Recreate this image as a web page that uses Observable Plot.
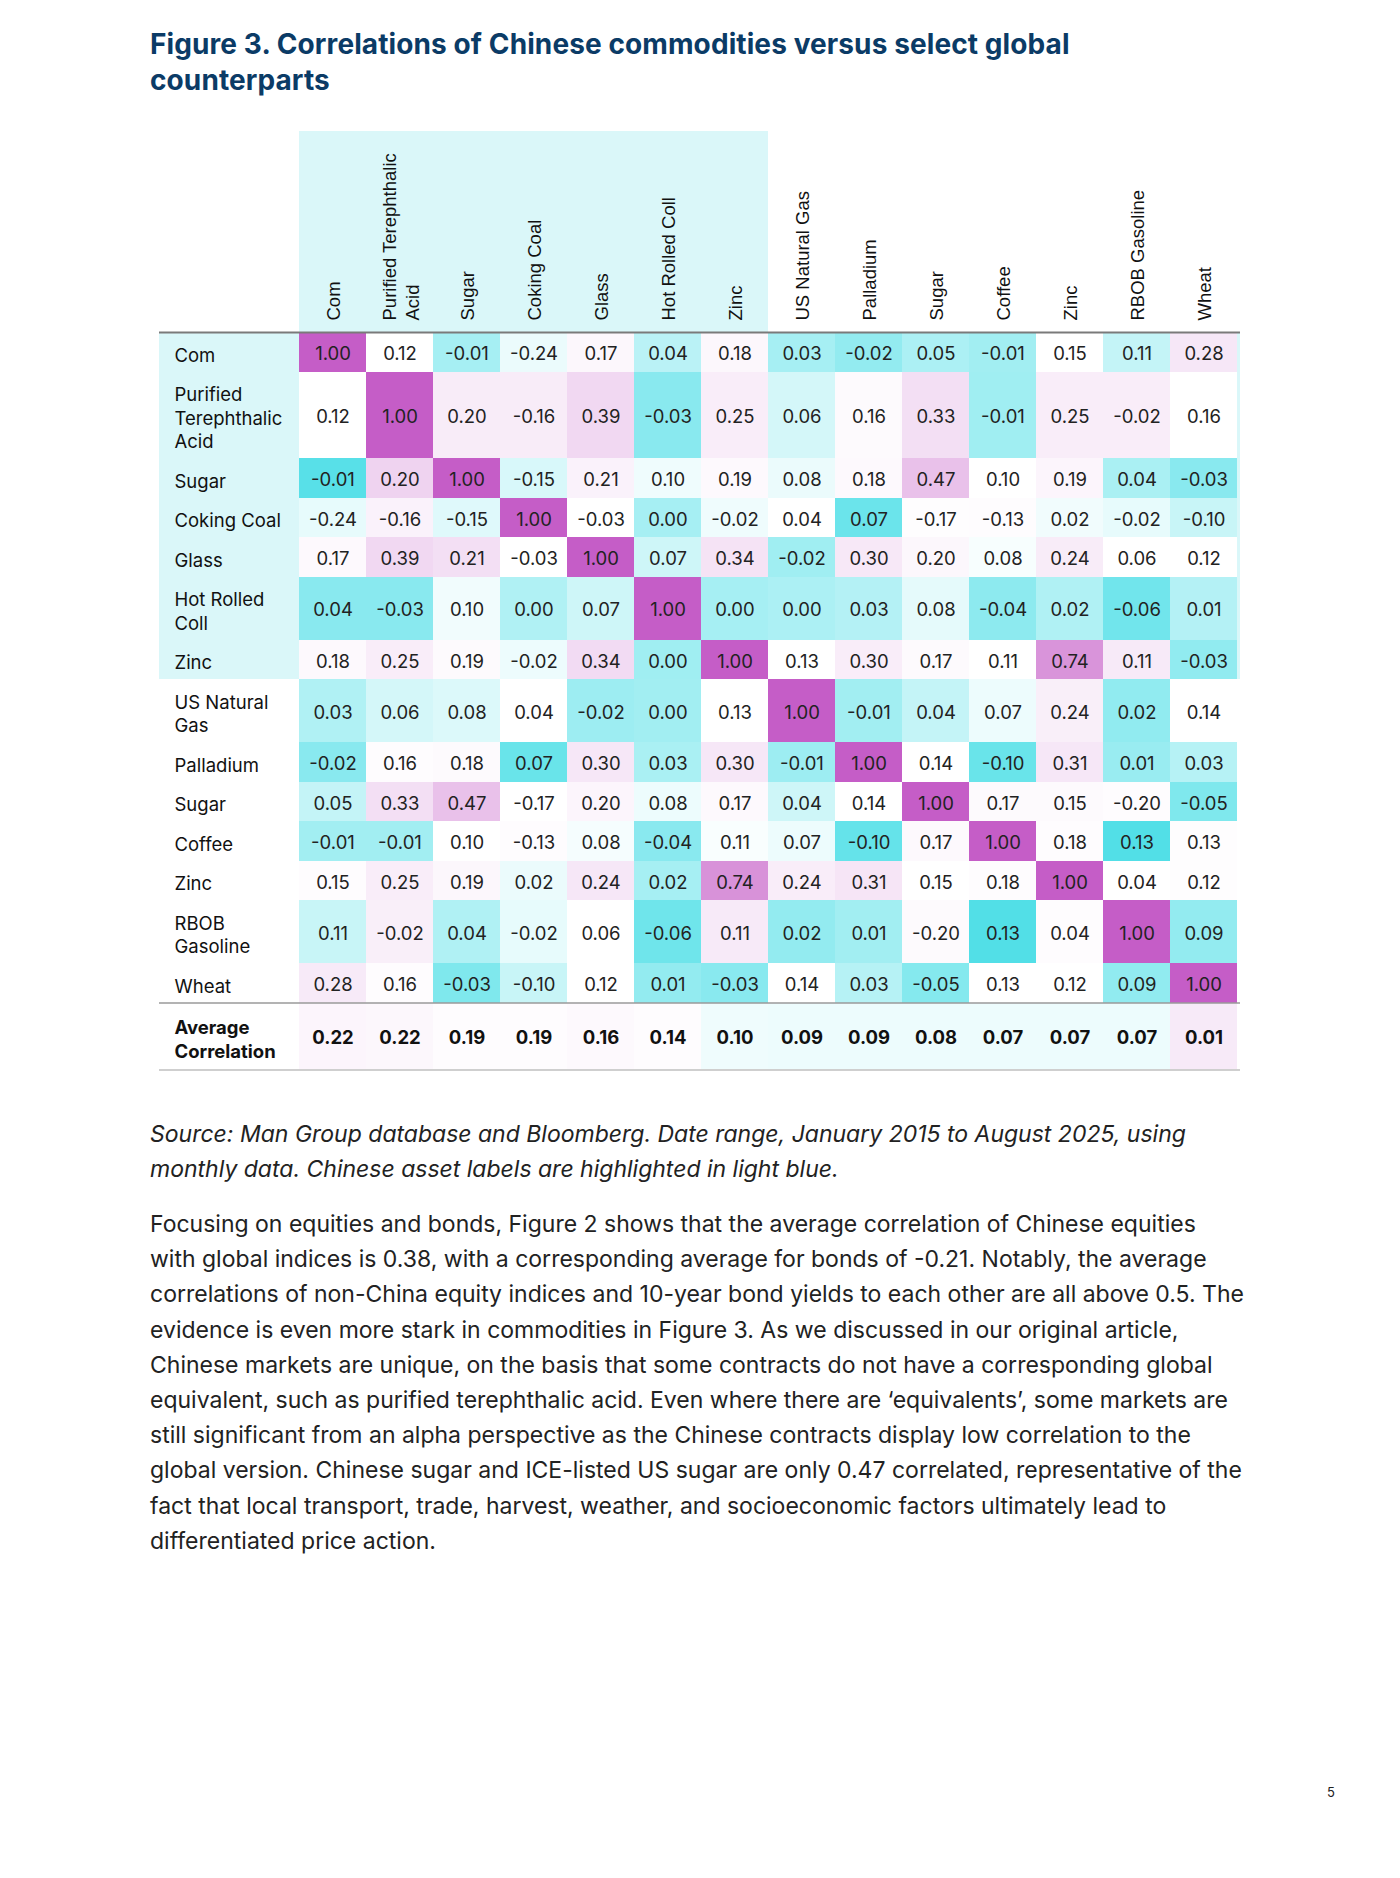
<!DOCTYPE html>
<html>
<head>
<meta charset="utf-8">
<script src="https://cdn.jsdelivr.net/npm/d3@7"></script>
<script src="https://cdn.jsdelivr.net/npm/@observablehq/plot@0.6"></script>
<style>
  html, body { margin: 0; padding: 0; background: #ffffff; }
  body { width: 1400px; height: 1878px; position: relative; font-family: Inter, "Noto Sans", sans-serif; color: #222; }
  #title { position: absolute; left: 150px; top: 26px; width: 1200px; font-family: Inter, Roboto, sans-serif; font-weight: 700; font-size: 28px; line-height: 36px; color: #0b3b66; white-space: nowrap; letter-spacing: 0.1px; }
  #chart { position: absolute; left: 0; top: 110px; }
  #source { position: absolute; left: 150px; top: 1117px; font-style: italic; font-size: 23px; line-height: 35px; color: #222; white-space: nowrap; }
  #body { position: absolute; left: 150px; top: 1207px; font-size: 23px; line-height: 35.2px; color: #222; white-space: nowrap; }
  #page { position: absolute; left: 1327px; top: 1784px; font-size: 13px; color: #222; }
</style>
</head>
<body>
<div id="title">Figure 3. Correlations of Chinese commodities versus select global<br>counterparts</div>
<div id="chart"></div>
<div id="source">Source: Man Group database and Bloomberg. Date range, January 2015 to August 2025, using<br>monthly data. Chinese asset labels are highlighted in light blue.</div>
<div id="body">Focusing on equities and bonds, Figure 2 shows that the average correlation of Chinese equities<br>with global indices is 0.38, with a corresponding average for bonds of -0.21. Notably, the average<br>correlations of non-China equity indices and 10-year bond yields to each other are all above 0.5. The<br>evidence is even more stark in commodities in Figure 3. As we discussed in our original article,<br>Chinese markets are unique, on the basis that some contracts do not have a corresponding global<br>equivalent, such as purified terephthalic acid. Even where there are ‘equivalents’, some markets are<br>still significant from an alpha perspective as the Chinese contracts display low correlation to the<br>global version. Chinese sugar and ICE-listed US sugar are only 0.47 correlated, representative of the<br>fact that local transport, trade, harvest, weather, and socioeconomic factors ultimately lead to<br>differentiated price action.</div>
<div id="page">5</div>
<script>
// ---------------- DATA ----------------
const columnLabels = ["Com", "Purified Terephthalic\nAcid", "Sugar", "Coking Coal", "Glass", "Hot Rolled Coll", "Zinc",
  "US Natural Gas", "Palladium", "Sugar", "Coffee", "Zinc", "RBOB Gasoline", "Wheat"];
const rowLabels = ["Com", "Purified\nTerephthalic\nAcid", "Sugar", "Coking Coal", "Glass", "Hot Rolled\nColl", "Zinc",
  "US Natural\nGas", "Palladium", "Sugar", "Coffee", "Zinc", "RBOB\nGasoline", "Wheat"];
const isChinese = [true, true, true, true, true, true, true, false, false, false, false, false, false, false];

const correlations = [
  [1.00, 0.12, -0.01, -0.24, 0.17, 0.04, 0.18, 0.03, -0.02, 0.05, -0.01, 0.15, 0.11, 0.28],
  [0.12, 1.00, 0.20, -0.16, 0.39, -0.03, 0.25, 0.06, 0.16, 0.33, -0.01, 0.25, -0.02, 0.16],
  [-0.01, 0.20, 1.00, -0.15, 0.21, 0.10, 0.19, 0.08, 0.18, 0.47, 0.10, 0.19, 0.04, -0.03],
  [-0.24, -0.16, -0.15, 1.00, -0.03, 0.00, -0.02, 0.04, 0.07, -0.17, -0.13, 0.02, -0.02, -0.10],
  [0.17, 0.39, 0.21, -0.03, 1.00, 0.07, 0.34, -0.02, 0.30, 0.20, 0.08, 0.24, 0.06, 0.12],
  [0.04, -0.03, 0.10, 0.00, 0.07, 1.00, 0.00, 0.00, 0.03, 0.08, -0.04, 0.02, -0.06, 0.01],
  [0.18, 0.25, 0.19, -0.02, 0.34, 0.00, 1.00, 0.13, 0.30, 0.17, 0.11, 0.74, 0.11, -0.03],
  [0.03, 0.06, 0.08, 0.04, -0.02, 0.00, 0.13, 1.00, -0.01, 0.04, 0.07, 0.24, 0.02, 0.14],
  [-0.02, 0.16, 0.18, 0.07, 0.30, 0.03, 0.30, -0.01, 1.00, 0.14, -0.10, 0.31, 0.01, 0.03],
  [0.05, 0.33, 0.47, -0.17, 0.20, 0.08, 0.17, 0.04, 0.14, 1.00, 0.17, 0.15, -0.20, -0.05],
  [-0.01, -0.01, 0.10, -0.13, 0.08, -0.04, 0.11, 0.07, -0.10, 0.17, 1.00, 0.18, 0.13, 0.13],
  [0.15, 0.25, 0.19, 0.02, 0.24, 0.02, 0.74, 0.24, 0.31, 0.15, 0.18, 1.00, 0.04, 0.12],
  [0.11, -0.02, 0.04, -0.02, 0.06, -0.06, 0.11, 0.02, 0.01, -0.20, 0.13, 0.04, 1.00, 0.09],
  [0.28, 0.16, -0.03, -0.10, 0.12, 0.01, -0.03, 0.14, 0.03, -0.05, 0.13, 0.12, 0.09, 1.00]
];
const averageLabel = "Average\nCorrelation";
const averageCorrelation = [0.22, 0.22, 0.19, 0.19, 0.16, 0.14, 0.10, 0.09, 0.09, 0.08, 0.07, 0.07, 0.07, 0.01];

// cell shading (-1 = deep cyan, 0 = white, +1 = magenta)
const shade = [
  [1, 0, -0.45, -0.1, 0.05, -0.35, 0.05, -0.45, -0.55, -0.42, -0.47, 0, -0.3, 0.15],
  [0, 1, 0.12, 0.12, 0.24, -0.6, 0.11, -0.22, 0.03, 0.2, -0.48, 0.11, 0.11, 0],
  [-0.85, 0.27, 1, -0.2, 0.08, -0.08, 0.04, -0.1, 0.04, 0.38, 0, 0.06, -0.43, -0.6],
  [-0.12, 0.08, -0.16, 1, 0, -0.45, -0.08, 0, -0.75, 0.01, 0.02, -0.07, -0.12, -0.28],
  [0.04, 0.24, 0.2, 0, 1, -0.25, 0.17, -0.48, 0.14, 0.05, -0.04, 0.12, 0, 0],
  [-0.6, -0.6, -0.07, -0.4, -0.25, 1, -0.45, -0.42, -0.38, -0.13, -0.58, -0.4, -0.72, -0.38],
  [0.04, 0.11, 0.03, -0.09, 0.22, -0.48, 1, 0, 0.11, 0.03, 0, 0.66, 0.13, -0.56],
  [-0.4, -0.22, -0.18, 0, -0.5, -0.47, 0, 1, -0.47, -0.3, -0.09, 0.1, -0.56, 0],
  [-0.6, 0.02, 0.03, -0.76, 0.15, -0.43, 0.15, -0.5, 1, 0, -0.76, 0.15, -0.52, -0.37],
  [-0.3, 0.2, 0.38, 0, 0.06, -0.09, 0.04, -0.25, 0, 1, 0.03, 0.03, 0.02, -0.65],
  [-0.47, -0.47, 0, 0.02, -0.05, -0.6, -0.03, -0.09, -0.78, 0.04, 1, 0.02, -0.88, 0.01],
  [0.02, 0.11, 0.05, -0.1, 0.15, -0.45, 0.67, 0.11, 0.16, 0, 0.02, 1, 0, 0.01],
  [-0.28, 0.1, -0.4, -0.12, 0, -0.73, 0.13, -0.55, -0.47, 0.03, -0.88, 0.02, 1, -0.55],
  [0.13, 0.02, -0.65, -0.28, 0, -0.55, -0.6, 0, -0.37, -0.62, 0, 0, -0.56, 1]
];
const averageShade = [0.06, 0.05, 0.02, 0.02, 0.04, 0.02, -0.08, -0.09, -0.09, -0.09, -0.09, -0.09, -0.09, 0.13];

// ---------------- LAYOUT ----------------
const W = 1400, H = 970;
const TABLE_LEFT = 159, LABEL_COL = 136, COL_W = 67.5;
const TABLE_RIGHT = TABLE_LEFT + LABEL_COL + columnLabels.length * COL_W;
const TABLE_TOP = 222;          // table top inside the svg
const HEADER_H = 201;           // height of the shaded header band
const ROW_PAD = 16, LINE_H = 23.5;
const nLines = s => s.split("\n").length;

let acc = 0;
const rows = rowLabels.map((label, i) => {
  const h = ROW_PAD + LINE_H * nLines(label);
  const r = {i, label, y1: acc, y2: acc + h, chinese: isChinese[i]};
  acc += h;
  return r;
});
const bodyBottom = acc;
const avgRow = {label: averageLabel, y1: bodyBottom, y2: bodyBottom + ROW_PAD + LINE_H * nLines(averageLabel) + 4};

const cells = [];
rows.forEach((r, i) => correlations[i].forEach((v, j) =>
  cells.push({col: j, y1: r.y1, y2: r.y2, value: v, shade: shade[i][j]})));
const avgCells = averageCorrelation.map((v, j) =>
  ({col: j, y1: avgRow.y1, y2: avgRow.y2, value: v, shade: averageShade[j]}));
const cols = columnLabels.map((label, j) => ({col: j, label, chinese: isChinese[j]}));

const mid = d => (d.y1 + d.y2) / 2;
const fmt = v => v.toFixed(2);
const CYAN_BG = "#daf7f9";
const TXT_DY = 2;

const chart = Plot.plot({
  width: W, height: H,
  marginLeft: TABLE_LEFT, marginRight: W - TABLE_RIGHT,
  marginTop: 0, marginBottom: 0,
  x: {type: "band", domain: d3.range(columnLabels.length), range: [TABLE_LEFT + LABEL_COL, TABLE_RIGHT], padding: 0, axis: null},
  y: {type: "linear", domain: [-TABLE_TOP, H - TABLE_TOP], range: [0, H], axis: null},
  color: {type: "linear", domain: [-1, 0, 1], range: ["#3adbe4", "#ffffff", "#c55dc7"], interpolate: "rgb"},
  style: {fontFamily: "Inter, 'Noto Sans', sans-serif", fontSize: "18px", color: "#222", background: "#ffffff"},
  marks: [
    // shaded header band over the Chinese columns
    Plot.barY(cols.filter(d => d.chinese), {x: "col", y1: -HEADER_H, y2: 0, fill: CYAN_BG, shapeRendering: "crispEdges"}),
    // shaded label cells for Chinese rows
    Plot.rect(rows.filter(d => d.chinese), {y1: "y1", y2: "y2", fill: CYAN_BG, shapeRendering: "crispEdges"}),
    // heatmap cells
    Plot.barY(cells, {x: "col", y1: "y1", y2: "y2", fill: "shade", shapeRendering: "crispEdges"}),
    Plot.barY(avgCells, {x: "col", y1: "y1", y2: "y2", fill: "shade", shapeRendering: "crispEdges"}),
    // values
    Plot.text(cells, {x: "col", y: mid, dy: TXT_DY, text: d => fmt(d.value), fill: "#222", fontSize: 18.5, fontWeight: 400}),
    Plot.text(avgCells, {x: "col", y: mid, dy: TXT_DY, text: d => fmt(d.value), fill: "#111", fontSize: 18.5, fontWeight: 700}),
    // column headers
    Plot.text(cols, {x: "col", y: -12, text: "label", rotate: -90, textAnchor: "start", lineAnchor: "middle",
      lineHeight: 1.25, fontFamily: "'Liberation Sans', Arial, sans-serif", fontSize: 18.5, fill: "#111"}),
    // row labels
    Plot.text(rows, {y: mid, dy: TXT_DY, text: "label", frameAnchor: "left", dx: 15, textAnchor: "start", lineAnchor: "middle",
      lineHeight: LINE_H / 18.5, fontSize: 18.5, fill: "#111"}),
    Plot.text([avgRow], {y: mid, dy: TXT_DY, text: "label", frameAnchor: "left", dx: 15, textAnchor: "start", lineAnchor: "middle",
      lineHeight: LINE_H / 18.5, fontSize: 18.5, fontWeight: 700, fill: "#111"}),
    // rules
    Plot.ruleY([0], {stroke: "#7a7a7a", strokeWidth: 2}),
    Plot.ruleY([bodyBottom], {stroke: "#9a9a9a", strokeWidth: 1.5}),
    Plot.ruleY([avgRow.y2], {stroke: "#cfcfcf", strokeWidth: 2})
  ]
});
document.getElementById("chart").appendChild(chart);
</script>
</body>
</html>
